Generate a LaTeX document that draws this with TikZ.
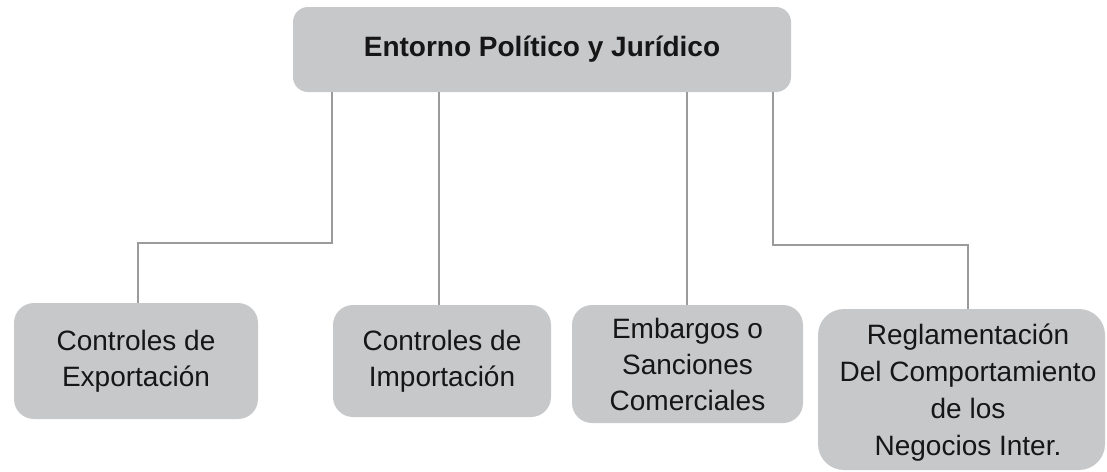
\documentclass[tikz,border=0pt]{standalone}
\usepackage{fontspec}
\setmainfont{Liberation Sans}
\definecolor{boxfill}{HTML}{C7C8CA}
\definecolor{linegray}{HTML}{9B9B9B}
\definecolor{txt}{HTML}{161616}
\begin{document}
\begin{tikzpicture}[x=1pt,y=-1pt,
  box/.style={fill=boxfill, draw=none, rounded corners=20pt, align=center, text=txt,
    font=\fontsize{28}{36}\selectfont, inner sep=0pt},
  conn/.style={draw=linegray, line width=2.6pt}]
\useasboundingbox (0,0) rectangle (1107,471);
% top node
\node[box, rounded corners=15pt, minimum width=498pt, minimum height=85pt,
  font=\fontsize{28}{36}\selectfont\bfseries] (top) at (542,49.5) {Entorno Político y Jurídico};
% bottom nodes
\node[box, minimum width=244pt, minimum height=116pt] (b1) at (136,361) {Controles de\\Exportación};
\node[box, minimum width=218pt, minimum height=112pt] (b2) at (442,361) {Controles de\\Importación};
\node[box, minimum width=231pt, minimum height=118pt] (b3) at (687.5,364) {Embargos o\\Sanciones\\Comerciales};
\node[box, rounded corners=26pt, minimum width=287pt, minimum height=161pt] (b4) at (961.5,389.5) {};
\node[align=center, text=txt, font=\fontsize{28}{37}\selectfont, inner sep=0pt] (b4t) at (968,393)
  {Reglamentación\\Del Comportamiento\\de los\\Negocios Inter.};
% junction coordinates
\coordinate (s1) at (332,92);
\coordinate (j1) at (138,243);
\coordinate (s2) at (439,92);
\coordinate (s3) at (687,92);
\coordinate (s4) at (773,92);
\coordinate (j4) at (968,245);
% connectors
\draw[conn] (top.south -| s1) |- (j1) -- (j1 |- b1.north);
\draw[conn] (top.south -| s2) -- (s2 |- b2.north);
\draw[conn] (top.south -| s3) -- (s3 |- b3.north);
\draw[conn] (top.south -| s4) |- (j4) -- (j4 |- b4.north);
\end{tikzpicture}
\end{document}
